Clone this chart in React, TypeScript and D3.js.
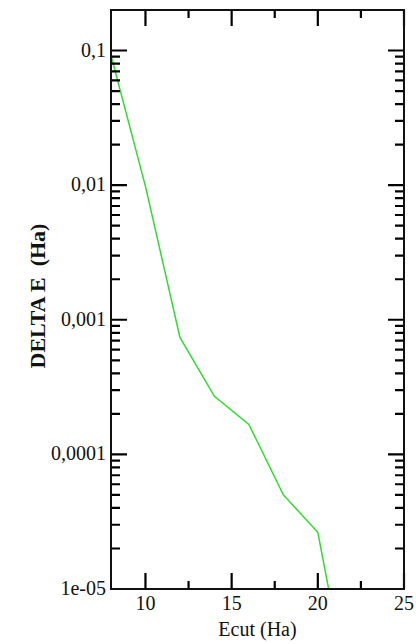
import React from 'react';
import * as d3 from 'd3';

// Ecut (Ha) vs convergence error DELTA E (Ha)
const ecut = [8, 10, 12, 14, 16, 18, 20, 22];
const deltaE = [0.092, 0.0098, 0.00074, 0.00027, 0.000167, 0.00005, 0.0000264, 0.0000012];

const xMajor = [10, 15, 20, 25];
const xMinor = [12.5, 17.5, 22.5];
const yMajor = [0.1, 0.01, 0.001, 0.0001, 0.00001];
const yLabels = ['0,1', '0,01', '0,001', '0,0001', '1e-05'];

const W = 416, H = 644;
const margin = { left: 111, right: 12, top: 10, bottom: 55 };
const FONT = 'Liberation Serif, serif';

const App = () => {
  const x = d3.scaleLinear().domain([8, 25]).range([margin.left, W - margin.right]);
  const y = d3.scaleLog().domain([0.00001, 0.2]).range([H - margin.bottom, margin.top]);
  const [x0, x1] = x.range();
  const [y0, y1] = y.range();

  const line = d3.line<number>()
    .x((d, i) => x(ecut[i]))
    .y(d => y(d));

  // tick marks on all four sides, pointing inward
  const yMinor: number[] = [];
  d3.range(-5, 0).forEach(e => {
    d3.range(2, 10).forEach(m => {
      const v = m * Math.pow(10, e);
      if (v < 0.2) yMinor.push(v);
    });
  });
  const tp = d3.path();
  const xt = (v: number, len: number) => {
    tp.moveTo(x(v), y0); tp.lineTo(x(v), y0 - len);
    tp.moveTo(x(v), y1); tp.lineTo(x(v), y1 + len);
  };
  const yt = (v: number, len: number) => {
    tp.moveTo(x0, y(v)); tp.lineTo(x0 + len, y(v));
    tp.moveTo(x1, y(v)); tp.lineTo(x1 - len, y(v));
  };
  xMajor.forEach(v => xt(v, 16));
  xMinor.forEach(v => xt(v, 8));
  yMajor.forEach(v => yt(v, 16));
  yMinor.forEach(v => yt(v, 9));

  return (
    <svg width={W} height={H} viewBox={`0 0 ${W} ${H}`}
      style={{ position: 'absolute', left: 0, top: 0, background: '#fff' }}>
      <defs>
        <clipPath id="plot">
          <rect x={x0} y={y1} width={x1 - x0} height={y0 - y1} />
        </clipPath>
      </defs>

      <path d={line(deltaE) || ''} clipPath="url(#plot)" fill="none"
        stroke="#2fdc2f" strokeWidth={1.5} />

      <path d={tp.toString()} fill="none" stroke="#000" strokeWidth={2.2} />

      <rect x={x0} y={y1} width={x1 - x0} height={y0 - y1}
        fill="none" stroke="#111" strokeWidth={2} />

      <g fontFamily={FONT} fill="#111">
        {xMajor.map(v => (
          <text key={'xl' + v} x={x(v)} y={y0 + 21} textAnchor="middle" fontSize={20}>{v}</text>
        ))}
        {yMajor.map((v, i) => (
          <text key={'yl' + i} x={x0 - 5} y={y(v) + 6} textAnchor="end" fontSize={20}>{yLabels[i]}</text>
        ))}
        <text x={(x0 + x1) / 2} y={y0 + 47} textAnchor="middle" fontSize={20}>Ecut (Ha)</text>
        <text transform="translate(45, 296) rotate(-90)" textAnchor="middle"
          fontSize={22} fontWeight="bold" style={{ whiteSpace: 'pre' }}>DELTA E  (Ha)</text>
      </g>
    </svg>
  );
};

export default App;
